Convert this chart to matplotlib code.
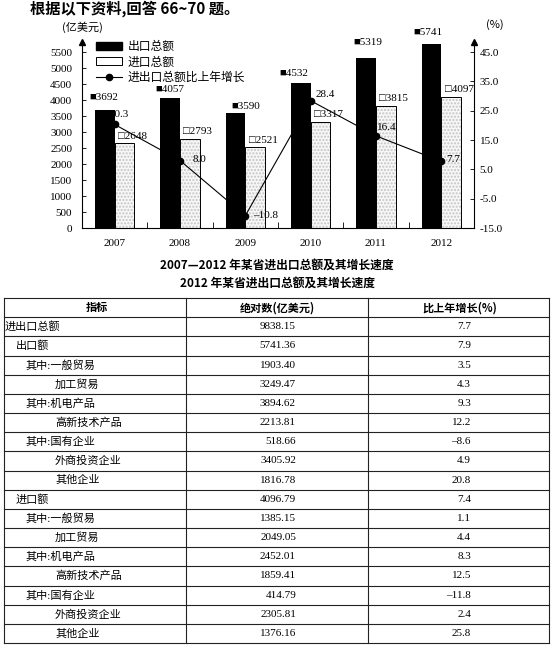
import matplotlib
matplotlib.use('Agg')
import matplotlib.pyplot as plt
from matplotlib.patches import Patch
from matplotlib.lines import Line2D

# chart data (亿美元 / %)
years = ['2007', '2008', '2009', '2010', '2011', '2012']
export_total = [3692, 4057, 3590, 4532, 5319, 5741]
import_total = [2648, 2793, 2521, 3317, 3815, 4097]
growth = [20.3, 8.0, -10.8, 28.4, 16.4, 7.7]

# table data (2012)
row_names = ['进出口总额', '出口额', '其中:一般贸易', '加工贸易', '其中:机电产品', '高新技术产品',
             '其中:国有企业', '外商投资企业', '其他企业',
             '进口额', '其中:一般贸易', '加工贸易', '其中:机电产品', '高新技术产品',
             '其中:国有企业', '外商投资企业', '其他企业']
abs_values = [9838.15, 5741.36, 1903.40, 3249.47, 3894.62, 2213.81, 518.66, 3405.92, 1816.78,
              4096.79, 1385.15, 2049.05, 2452.01, 1859.41, 414.79, 2305.81, 1376.16]
pct_values = [7.7, 7.9, 3.5, 4.3, 9.3, 12.2, -8.6, 4.9, 20.8,
              7.4, 1.1, 4.4, 8.3, 12.5, -11.8, 2.4, 25.8]
row_indent = [5, 16, 26, 55, 26, 55, 26, 55, 55, 16, 26, 55, 26, 55, 26, 55, 55]   # px

CJK = ['Noto Sans CJK SC', 'DejaVu Sans']
SERIF = ['Liberation Serif', 'Noto Sans CJK SC', 'DejaVu Sans']

W, H = 554, 645
fig = plt.figure(figsize=(W/100, H/100), dpi=100)

# background axes in pixel coords for titles and the table
bg = fig.add_axes([0, 0, 1, 1])
bg.set_xlim(0, W)
bg.set_ylim(H, 0)
bg.axis('off')

bg.text(30, 9, '根据以下资料,回答 66~70 题。', family=CJK, fontsize=11, weight='bold', va='center', ha='left')
bg.text(62, 27, '(亿美元)', family=CJK, fontsize=8, va='center', ha='left')
bg.text(486, 25, '(%)', family=CJK, fontsize=8, va='center', ha='left')
bg.text(277, 265, '2007—2012 年某省进出口总额及其增长速度', family=CJK, fontsize=8.5, weight='bold', va='center', ha='center')
bg.text(277, 283, '2012 年某省进出口总额及其增长速度', family=CJK, fontsize=8.5, weight='bold', va='center', ha='center')

# ---- chart
ax = fig.add_axes([82/W, (H-228)/H, (474-82)/W, (228-42.4)/H])
x = list(range(len(years)))
bw = 0.3
ax.bar([i - bw/2 for i in x], export_total, width=bw, color='black', zorder=2)
ax.bar([i + bw/2 for i in x], import_total, width=bw, color='#f7f7f7', edgecolor='#c4c4c4',
       linewidth=0, hatch='.....', zorder=2)
ax.bar([i + bw/2 for i in x], import_total, width=bw, fill=False, edgecolor='black', linewidth=0.7, zorder=3)

ax.set_xlim(-0.5, 5.5)
ax.set_ylim(0, 5800)
ax.set_yticks(range(0, 5501, 500))
ax.set_xticks(x)
ax.set_xticklabels(years)
ax.set_xticks([i + 0.5 for i in x[:-1]], minor=True)
ax.tick_params(axis='x', which='major', length=0, pad=8, labelsize=8)
ax.tick_params(axis='x', which='minor', direction='in', length=4, width=0.6)
ax.tick_params(axis='y', direction='in', length=3, width=0.6, pad=7, labelsize=8)
for lab in ax.get_xticklabels() + ax.get_yticklabels():
    lab.set_family(SERIF)
ax.spines['top'].set_visible(False)
for s in ['left', 'bottom', 'right']:
    ax.spines[s].set_linewidth(0.8)
ax.plot([0], [1], marker='^', color='black', ms=4, transform=ax.transAxes, clip_on=False)
ax.plot([1], [1], marker='^', color='black', ms=4, transform=ax.transAxes, clip_on=False)

# bar value labels
exp_dx = [-1, 0, 10, -7, 2, -4]
exp_dy = [12, 9, 7, 9, 15, 12]
for i, v in enumerate(export_total):
    ax.annotate('■' + str(v), (i - bw/2, v), xytext=(exp_dx[i]*0.72, exp_dy[i]*0.72),
                textcoords='offset points', ha='center', va='center', fontsize=8, family=SERIF, zorder=5)
for i, v in enumerate(import_total):
    ax.annotate('□' + str(v), (i + bw/2, v), xytext=(8*0.72, 7*0.72),
                textcoords='offset points', ha='center', va='center', fontsize=8, family=SERIF, zorder=5)

# growth line on right axis
ax2 = ax.twinx()
ax2.set_ylim(-15, -15 + 60*5800/5500)
ax2.set_yticks(range(-15, 46, 10))
ax2.set_yticklabels(['%.1f' % t for t in range(-15, 46, 10)])
ax2.tick_params(axis='y', direction='in', length=3, width=0.6, pad=4, labelsize=8)
for lab in ax2.get_yticklabels():
    lab.set_family(SERIF)
for s in ax2.spines.values():
    s.set_visible(False)
ax2.plot(x, growth, color='black', linewidth=0.8, marker='o', ms=4.5, zorder=4)
g_dx = [-5, 13, 8, 5, 1, 5]
g_dy = [10, 1, 0, 6, 8, 2]
for i, g in enumerate(growth):
    ax2.annotate(('%.1f' % g).replace('-', '–'), (i, g), xytext=(g_dx[i]*0.72, g_dy[i]*0.72),
                 textcoords='offset points', ha='left', va='center', fontsize=8, family=SERIF, zorder=6)

handles = [Patch(facecolor='black', edgecolor='black'),
           Patch(facecolor='white', edgecolor='black', linewidth=0.7),
           Line2D([], [], color='black', linewidth=0.8, marker='o', ms=4.5)]
leg = ax.legend(handles, ['出口总额', '进口总额', '进出口总额比上年增长'],
                loc='upper left', bbox_to_anchor=(96/W, 1 - 40/H), bbox_transform=fig.transFigure,
                frameon=False, borderpad=0, borderaxespad=0, handlelength=2.2, handleheight=0.6,
                handletextpad=0.45, labelspacing=0.2, prop={'family': CJK, 'size': 8.5})

# ---- table
top, rh = 298, 19.17
cols = [4, 186, 368, 549]
nrows = len(row_names) + 1
for k in range(nrows + 1):
    bg.plot([cols[0], cols[-1]], [top + k*rh]*2, color='#222222', linewidth=0.8)
for c in cols:
    bg.plot([c, c], [top, top + nrows*rh], color='#222222', linewidth=0.8)

hy = top + rh/2
bg.text(97, hy, '指标', family=CJK, fontsize=8, weight='bold', ha='center', va='center')
bg.text(277, hy, '绝对数(亿美元)', family=CJK, fontsize=8, weight='bold', ha='center', va='center')
bg.text(460, hy, '比上年增长(%)', family=CJK, fontsize=8, weight='bold', ha='center', va='center')

for r, name in enumerate(row_names):
    yc = top + rh*(r + 1.5)
    bg.text(row_indent[r], yc, name, family=SERIF, fontsize=8, ha='left', va='center')
    bg.text(296, yc, '%.2f' % abs_values[r], family=SERIF, fontsize=8, ha='right', va='center')
    bg.text(471, yc, ('%.1f' % pct_values[r]).replace('-', '–'), family=SERIF, fontsize=8,
            ha='right', va='center')

fig.savefig('out.png', dpi=100)
